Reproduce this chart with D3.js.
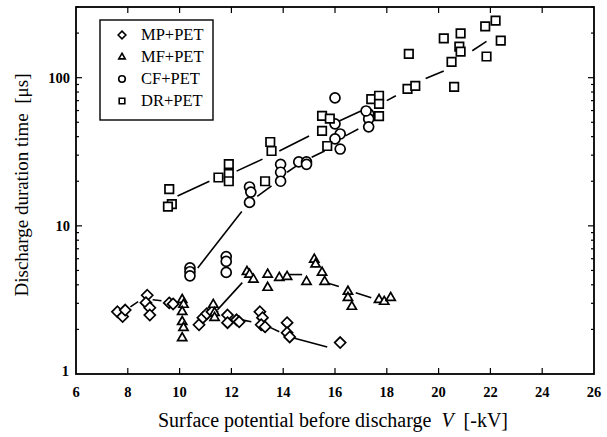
<!DOCTYPE html>
<html>
<head>
<meta charset="utf-8">
<script src="https://cdn.jsdelivr.net/npm/d3@7"></script>
<style>
  body { margin: 0; background: #fff; }
  svg { font-family: "Liberation Serif", "Times New Roman", serif; }
</style>
</head>
<body>
<svg id="area" width="607" height="437"></svg>
<script>
// measured points [V (-kV), duration (us)]
const mpPet = [[7.6, 2.63], [7.8, 2.44], [7.9, 2.7], [8.75, 3.4], [8.7, 3.03], [8.85, 2.8], [8.85, 2.5],
  [9.6, 3.02], [9.75, 2.97], [10.75, 2.15], [10.9, 2.4], [11.05, 2.55], [11.25, 2.63], [11.85, 2.5],
  [11.85, 2.22], [12.2, 2.32], [12.3, 2.25], [13.1, 2.63], [13.2, 2.4], [13.15, 2.15], [13.3, 2.08],
  [14.15, 2.22], [14.15, 1.9], [14.25, 1.78], [16.2, 1.63]];
const mfPet = [[10.1, 3.17], [10.15, 2.94], [10.1, 2.63], [10.1, 2.25], [10.15, 2.05], [10.1, 1.75],
  [11.3, 2.94], [11.35, 2.59], [11.35, 2.4], [12.6, 4.9], [12.7, 4.7], [12.85, 4.35], [13.4, 4.7],
  [13.4, 3.83], [13.85, 4.47], [14.15, 4.54], [14.9, 4.2], [15.2, 5.93], [15.25, 5.5], [15.5, 4.84],
  [15.6, 4.2], [16.5, 3.6], [16.5, 3.27], [16.65, 2.85], [17.7, 3.17], [17.9, 3.08], [18.15, 3.27]];
const cfPet = [[10.4, 5.2], [10.4, 4.9], [10.4, 4.6], [11.8, 6.2], [11.8, 5.75], [11.8, 4.85],
  [12.7, 18.3], [12.75, 16.9], [12.7, 14.4], [13.9, 26], [13.9, 23], [13.9, 20], [14.6, 27],
  [14.9, 27], [14.9, 26], [16.0, 48.8], [16.2, 41.7], [16.2, 33], [16.0, 38.6], [16.0, 73],
  [17.3, 57], [17.3, 52.7], [17.3, 46.6], [17.2, 59.6]];
const drPet = [[9.6, 17.7], [9.7, 14], [9.55, 13.5], [11.5, 21.2], [11.9, 26.1], [11.9, 22.4],
  [11.9, 20], [13.3, 20], [13.5, 36.8], [13.55, 32], [15.5, 43.7], [15.5, 55.3], [15.8, 52.9],
  [15.7, 34.6], [17.4, 71.6], [17.7, 75.5], [17.7, 66.6], [17.7, 55], [18.85, 145], [18.8, 84],
  [19.1, 88], [20.2, 184], [20.85, 199], [20.8, 162], [20.85, 150], [20.5, 128], [20.6, 86.8],
  [21.8, 222], [22.2, 243], [22.4, 178], [21.85, 139]];

// trend line pieces [[x1, y1], [x2, y2]]
const mpTrend = [[[8.1, 2.84], [8.4, 3.08]], [[8.96, 3.17], [9.3, 3.12]], [[12.4, 2.32], [12.77, 2.25]],
  [[13.45, 2.08], [13.85, 1.93]], [[14.4, 1.75], [15.7, 1.52]]];
const mfTrend = [[[11.46, 2.71], [12.42, 4.14]], [[14.04, 4.69], [14.73, 4.69]],
  [[15.65, 4.14], [16.15, 3.89]], [[16.8, 3.54], [17.4, 3.27]]];
const cfTrend = [[[10.7, 5.2], [12.4, 12.5]], [[13.0, 15.8], [13.55, 18.6]], [[14.15, 23], [14.5, 25.3]],
  [[15.1, 29], [15.6, 32]], [[16.4, 40.5], [16.9, 45]]];
const drTrend = [[[9.92, 15.9], [11.15, 20]], [[12.2, 23.4], [13.2, 28.2]], [[13.85, 32], [15, 40.4]],
  [[16.1, 50.4], [17, 59.6]], [[18, 70], [18.35, 75.6]], [[19.5, 98.6], [20.2, 111]],
  [[21.3, 152], [21.85, 176]]];

const xTicks = [6, 8, 10, 12, 14, 16, 18, 20, 22, 24, 26];
const yTicks = [1, 10, 100];
const seriesNames = ['MP+PET', 'MF+PET', 'CF+PET', 'DR+PET'];

const svg = d3.select('#area');
const plotLeft = 76;
const plotRight = 594;
const plotTop = 7;
const plotBottom = 374;

const x = d3.scaleLinear().domain([6, 26]).range([plotLeft, plotRight]);
const y = d3.scaleLog().domain([1, 300]).range([plotBottom, plotTop]);

const shapes = [
  d3.symbol().type(d3.symbolDiamond2).size(78),
  d3.symbol().type(d3.symbolTriangle2).size(60),
  d3.symbol().type(d3.symbolCircle).size(78),
  d3.symbol().type(d3.symbolSquare2).size(92),
];
const legendShapes = [
  d3.symbol().type(d3.symbolDiamond2).size(38),
  d3.symbol().type(d3.symbolTriangle2).size(30),
  d3.symbol().type(d3.symbolCircle).size(34),
  d3.symbol().type(d3.symbolSquare2).size(40),
];

// frame
svg.append('rect')
  .attr('x', plotLeft).attr('y', plotTop)
  .attr('width', plotRight - plotLeft).attr('height', plotBottom - plotTop)
  .attr('fill', 'none').attr('stroke', '#000').attr('stroke-width', 1.8);

// inward ticks on all four sides
const tickG = svg.append('g').attr('stroke', '#000').attr('stroke-width', 1.2);
xTicks.slice(1, -1).forEach((t) => {
  tickG.append('line').attr('x1', x(t)).attr('x2', x(t)).attr('y1', plotBottom).attr('y2', plotBottom - 6);
  tickG.append('line').attr('x1', x(t)).attr('x2', x(t)).attr('y1', plotTop).attr('y2', plotTop + 6);
});
const yMinor = [2, 3, 4, 5, 6, 7, 8, 9, 20, 30, 40, 50, 60, 70, 80, 90, 200, 300];
yMinor.forEach((t) => {
  tickG.append('line').attr('x1', plotLeft).attr('x2', plotLeft + 3).attr('y1', y(t)).attr('y2', y(t));
  tickG.append('line').attr('x1', plotRight).attr('x2', plotRight - 3).attr('y1', y(t)).attr('y2', y(t));
});
yTicks.slice(1).forEach((t) => {
  tickG.append('line').attr('x1', plotLeft).attr('x2', plotLeft + 6).attr('y1', y(t)).attr('y2', y(t));
  tickG.append('line').attr('x1', plotRight).attr('x2', plotRight - 6).attr('y1', y(t)).attr('y2', y(t));
});

// tick labels
svg.append('g')
  .selectAll('text').data(xTicks).join('text')
  .attr('x', (d) => x(d)).attr('y', 397)
  .attr('text-anchor', 'middle')
  .attr('font-size', 14.5)
  .attr('font-weight', 'bold')
  .text((d) => d);
svg.append('g')
  .selectAll('text').data(yTicks).join('text')
  .attr('x', (d) => (d === 1 ? 69 : 70))
  .attr('y', (d) => (d === 1 ? y(d) + 2 : y(d) + 5))
  .attr('text-anchor', 'end')
  .attr('font-size', 14.5)
  .attr('font-weight', 'bold')
  .text((d) => d);

// axis titles
const xTitle = svg.append('text')
  .attr('x', 333).attr('y', 427)
  .attr('text-anchor', 'middle')
  .attr('font-size', 20);
xTitle.append('tspan').text('Surface potential before discharge\u00a0\u00a0');
xTitle.append('tspan').attr('font-style', 'italic').text('V');
xTitle.append('tspan').text('\u00a0\u00a0[-kV]');

svg.append('text')
  .attr('transform', 'translate(28,185) rotate(-90)')
  .attr('text-anchor', 'middle')
  .attr('font-size', 19)
  .text('Discharge duration time\u00a0\u00a0[\u03bcs]');

// trend lines
const trends = [mpTrend, mfTrend, cfTrend, drTrend];
const line = d3.line().x((d) => x(d[0])).y((d) => y(d[1]));
svg.append('g')
  .selectAll('path').data(trends.flat()).join('path')
  .attr('d', line)
  .attr('fill', 'none').attr('stroke', '#000').attr('stroke-width', 1.6);

// markers
const sets = [mpPet, mfPet, cfPet, drPet];
sets.forEach((pts, i) => {
  svg.append('g')
    .selectAll('path').data(pts).join('path')
    .attr('transform', (d) => `translate(${x(d[0])},${y(d[1])})`)
    .attr('d', shapes[i])
    .attr('fill', '#fff')
    .attr('stroke', '#000')
    .attr('stroke-width', 1.7);
});

// legend
const lg = svg.append('g');
lg.append('rect')
  .attr('x', 100).attr('y', 20).attr('width', 113).attr('height', 100)
  .attr('fill', '#fff').attr('stroke', '#000').attr('stroke-width', 1.4);
seriesNames.forEach((name, i) => {
  const ry = 35 + i * 22;
  lg.append('path')
    .attr('transform', `translate(122,${ry})`)
    .attr('d', legendShapes[i])
    .attr('fill', '#fff').attr('stroke', '#000').attr('stroke-width', 1.6);
  lg.append('text')
    .attr('x', 141).attr('y', ry + 5)
    .attr('font-size', 16.5)
    .text(name);
});
</script>
</body>
</html>
